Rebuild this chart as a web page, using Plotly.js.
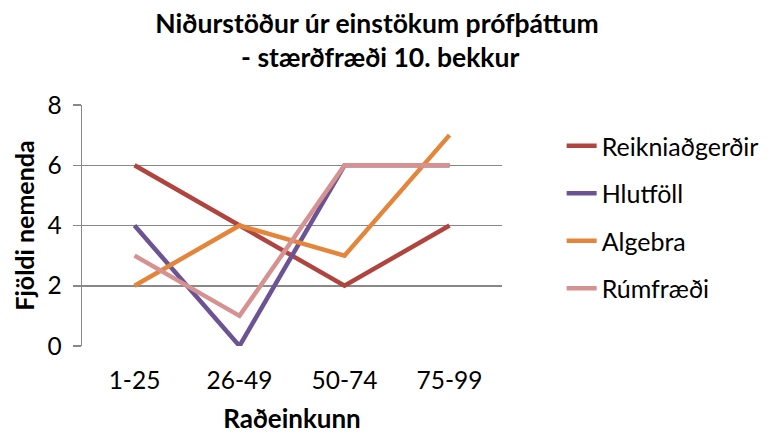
<!DOCTYPE html>
<html><head><meta charset="utf-8">
<script src="https://cdn.plot.ly/plotly-3.0.1.min.js"></script>
<style>html,body{margin:0;padding:0;background:#fff}#c{width:776px;height:434px}</style>
</head><body><div id="c"></div>
<script>
const categories = ["1-25", "26-49", "50-74", "75-99"];
const reikniadgerdir = [6, 4, 2, 4];
const hlutfoll = [4, 0, 6, 6];
const algebra = [2, 4, 3, 7];
const rumfraedi = [3, 1, 6, 6];
const seriesNames = ["Reikniaðgerðir", "Hlutföll", "Algebra", "Rúmfræði"];
const seriesColors = ["#B0443F", "#6C5394", "#E3853A", "#D69290"];
const seriesValues = [reikniadgerdir, hlutfoll, algebra, rumfraedi];
const yTicks = [0, 2, 4, 6, 8];

const FONT = "Lato, 'Open Sans', sans-serif";
const traces = seriesValues.map((v, i) => ({
  type: "scatter", mode: "lines", x: categories, y: v, name: seriesNames[i],
  legendgroup: "g" + i,
  line: {color: seriesColors[i], width: 4.5}
}));

const layout = {
  width: 776, height: 434,
  margin: {l: 82, r: 272, t: 105, b: 88},
  paper_bgcolor: "#fff", plot_bgcolor: "#fff",
  font: {family: FONT, size: 24, color: "#000"},
  title: {text: "<b>Niðurstöður úr einstökum prófþáttum<br> - stærðfræði 10. bekkur</b>",
    x: 377 / 776, xref: "container", xanchor: "center",
    y: 0.925, yref: "container", yanchor: "top",
    font: {family: FONT, size: 26.5, color: "#000"}},
  xaxis: {type: "category", range: [-0.5, 3.5], showgrid: false, zeroline: false,
    showline: false, ticks: "", tickfont: {size: 24.5}, ticklabelstandoff: 17,
    title: {text: "<b>Raðeinkunn</b>", standoff: 23, font: {size: 26}}},
  yaxis: {range: [0, 8], tickvals: yTicks, gridcolor: "#888888", gridwidth: 1.5,
    showline: true, linecolor: "#888888", linewidth: 1.5, ticks: "outside", ticklen: 8,
    tickcolor: "#888888", tickwidth: 1.5, zeroline: false, tickfont: {size: 24.5},
    ticklabelstandoff: 6,
    title: {text: "<b>Fjöldi nemenda</b>", standoff: 5, font: {size: 25}}},
  legend: {x: 1.142, xanchor: "left", y: 0.925, yanchor: "top", tracegroupgap: 12,
    font: {size: 25}, bgcolor: "rgba(0,0,0,0)"},
  showlegend: true
};
Plotly.newPlot("c", traces, layout, {staticPlot: true});
</script></body></html>
